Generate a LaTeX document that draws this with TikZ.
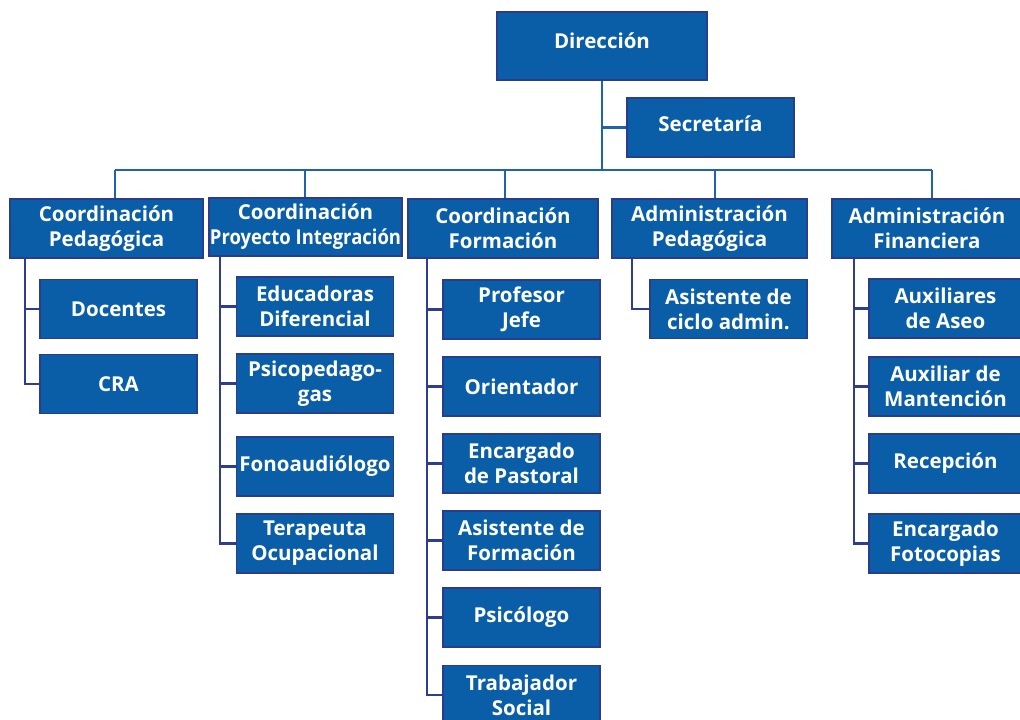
\documentclass[tikz,border=0pt]{standalone}
\usepackage{fontspec}
\usepackage{graphicx}
\setmainfont{Open Sans}
\definecolor{fillc}{HTML}{0A5EA8}
\definecolor{bordc}{HTML}{2B3C8E}
\definecolor{busc}{HTML}{1F63AE}
\definecolor{sidec}{HTML}{2E3D8E}
\begin{document}
\begin{tikzpicture}[x=1pt,y=-1pt,
  box/.style={draw=bordc, line width=1.8pt, fill=fillc, text=white,
    font=\bfseries\fontsize{20.5}{25}\selectfont, align=center, inner sep=0pt},
  topbox/.style={box, minimum width=#1, minimum height=59},
  child/.style={box, minimum width=157, minimum height=59},
  busline/.style={draw=busc, line width=2.2pt},
  sideline/.style={draw=sidec, line width=2.2pt}]
\useasboundingbox (0,0) rectangle (1020,720);
\clip (0,0) rectangle (1020,720);

\coordinate (b1) at (115,170);
\coordinate (b2) at (305,170);
\coordinate (b3) at (505,170);
\coordinate (b4) at (715,170);
\coordinate (b5) at (932,170);

% top level
\node[box, minimum width=210, minimum height=68, text depth=10pt] (dir) at (602,46) {Dirección};
\node[box, minimum width=167, minimum height=59, text depth=7pt] (sec) at (710.5,127.5) {Secretaría};

% level 2
\node[topbox=193] (cp) at (106.5,228.5) {Coordinación\\Pedagógica};
\node[topbox=193, minimum height=58] (cpi) at (305.5,227) {Coordinación\\\scalebox{0.9}[1]{Proyecto Integración}};
\node[topbox=190] (cf) at (503,228.5) {Coordinación\\Formación};
\node[topbox=195] (ap) at (709.5,228.5) {Administración\\Pedagógica};
\node[topbox=190] (af) at (927,228.5) {Administración\\Financiera};

% column 1
\node[child] (doc) at (118.5,309) {Docentes};
\node[child] (cra) at (118.5,384) {CRA};
% column 2
\node[child] (edu) at (315,306.5) {Educadoras\\Diferencial};
\node[child] (psp) at (315,383.5) {Psicopedago-\\gas};
\node[child] (fon) at (315,466.5) {Fonoaudiólogo};
\node[child] (ter) at (315,543.5) {Terapeuta\\Ocupacional};
% column 3
\node[child] (pro) at (521.5,309.5) {Profesor\\Jefe};
\node[child] (ori) at (521.5,386.5) {Orientador};
\node[child] (pas) at (521.5,463.5) {Encargado\\de Pastoral};
\node[child] (asf) at (521.5,540.5) {Asistente de\\Formación};
\node[child] (psi) at (521.5,617.5) {Psicólogo};
\node[child] (tra) at (521.5,695) {Trabajador\\Social};
% column 4
\node[child] (asc) at (728.5,309) {Asistente de\\ciclo admin.};
% column 5
\node[child, minimum width=153] (aux) at (945.5,308.5) {Auxiliares\\de Aseo};
\node[child, minimum width=153] (man) at (945.5,386.5) {Auxiliar de\\Mantención};
\node[child, minimum width=153] (rec) at (945.5,463.5) {Recepción};
\node[child, minimum width=153] (fot) at (945.5,543.5) {Encargado\\Fotocopias};

% bus connectors
\draw[busline] (dir.south) -- (dir.south |- b1);
\draw[busline] (sec.west) -- (sec.west -| dir.south);
\draw[busline] (b1) -- (b5);
\draw[busline] (b1) -- (b1 |- cp.north);
\draw[busline] (b2) -- (b2 |- cpi.north);
\draw[busline] (b3) -- (b3 |- cf.north);
\draw[busline] (b4) -- (b4 |- ap.north);
\draw[busline] (b5) -- (b5 |- af.north);

% side connectors
\foreach \c in {doc,cra}
  \draw[sideline] ([xshift=16pt]cp.south west) |- (\c.west);
\foreach \c in {edu,psp,fon,ter}
  \draw[sideline] ([xshift=12pt]cpi.south west) |- (\c.west);
\foreach \c in {pro,ori,pas,asf,psi,tra}
  \draw[sideline] ([xshift=20pt]cf.south west) |- (\c.west);
\draw[sideline] ([xshift=21pt]ap.south west) |- (asc.west);
\foreach \c in {aux,man,rec,fot}
  \draw[sideline] ([xshift=23pt]af.south west) |- (\c.west);
\end{tikzpicture}
\end{document}
